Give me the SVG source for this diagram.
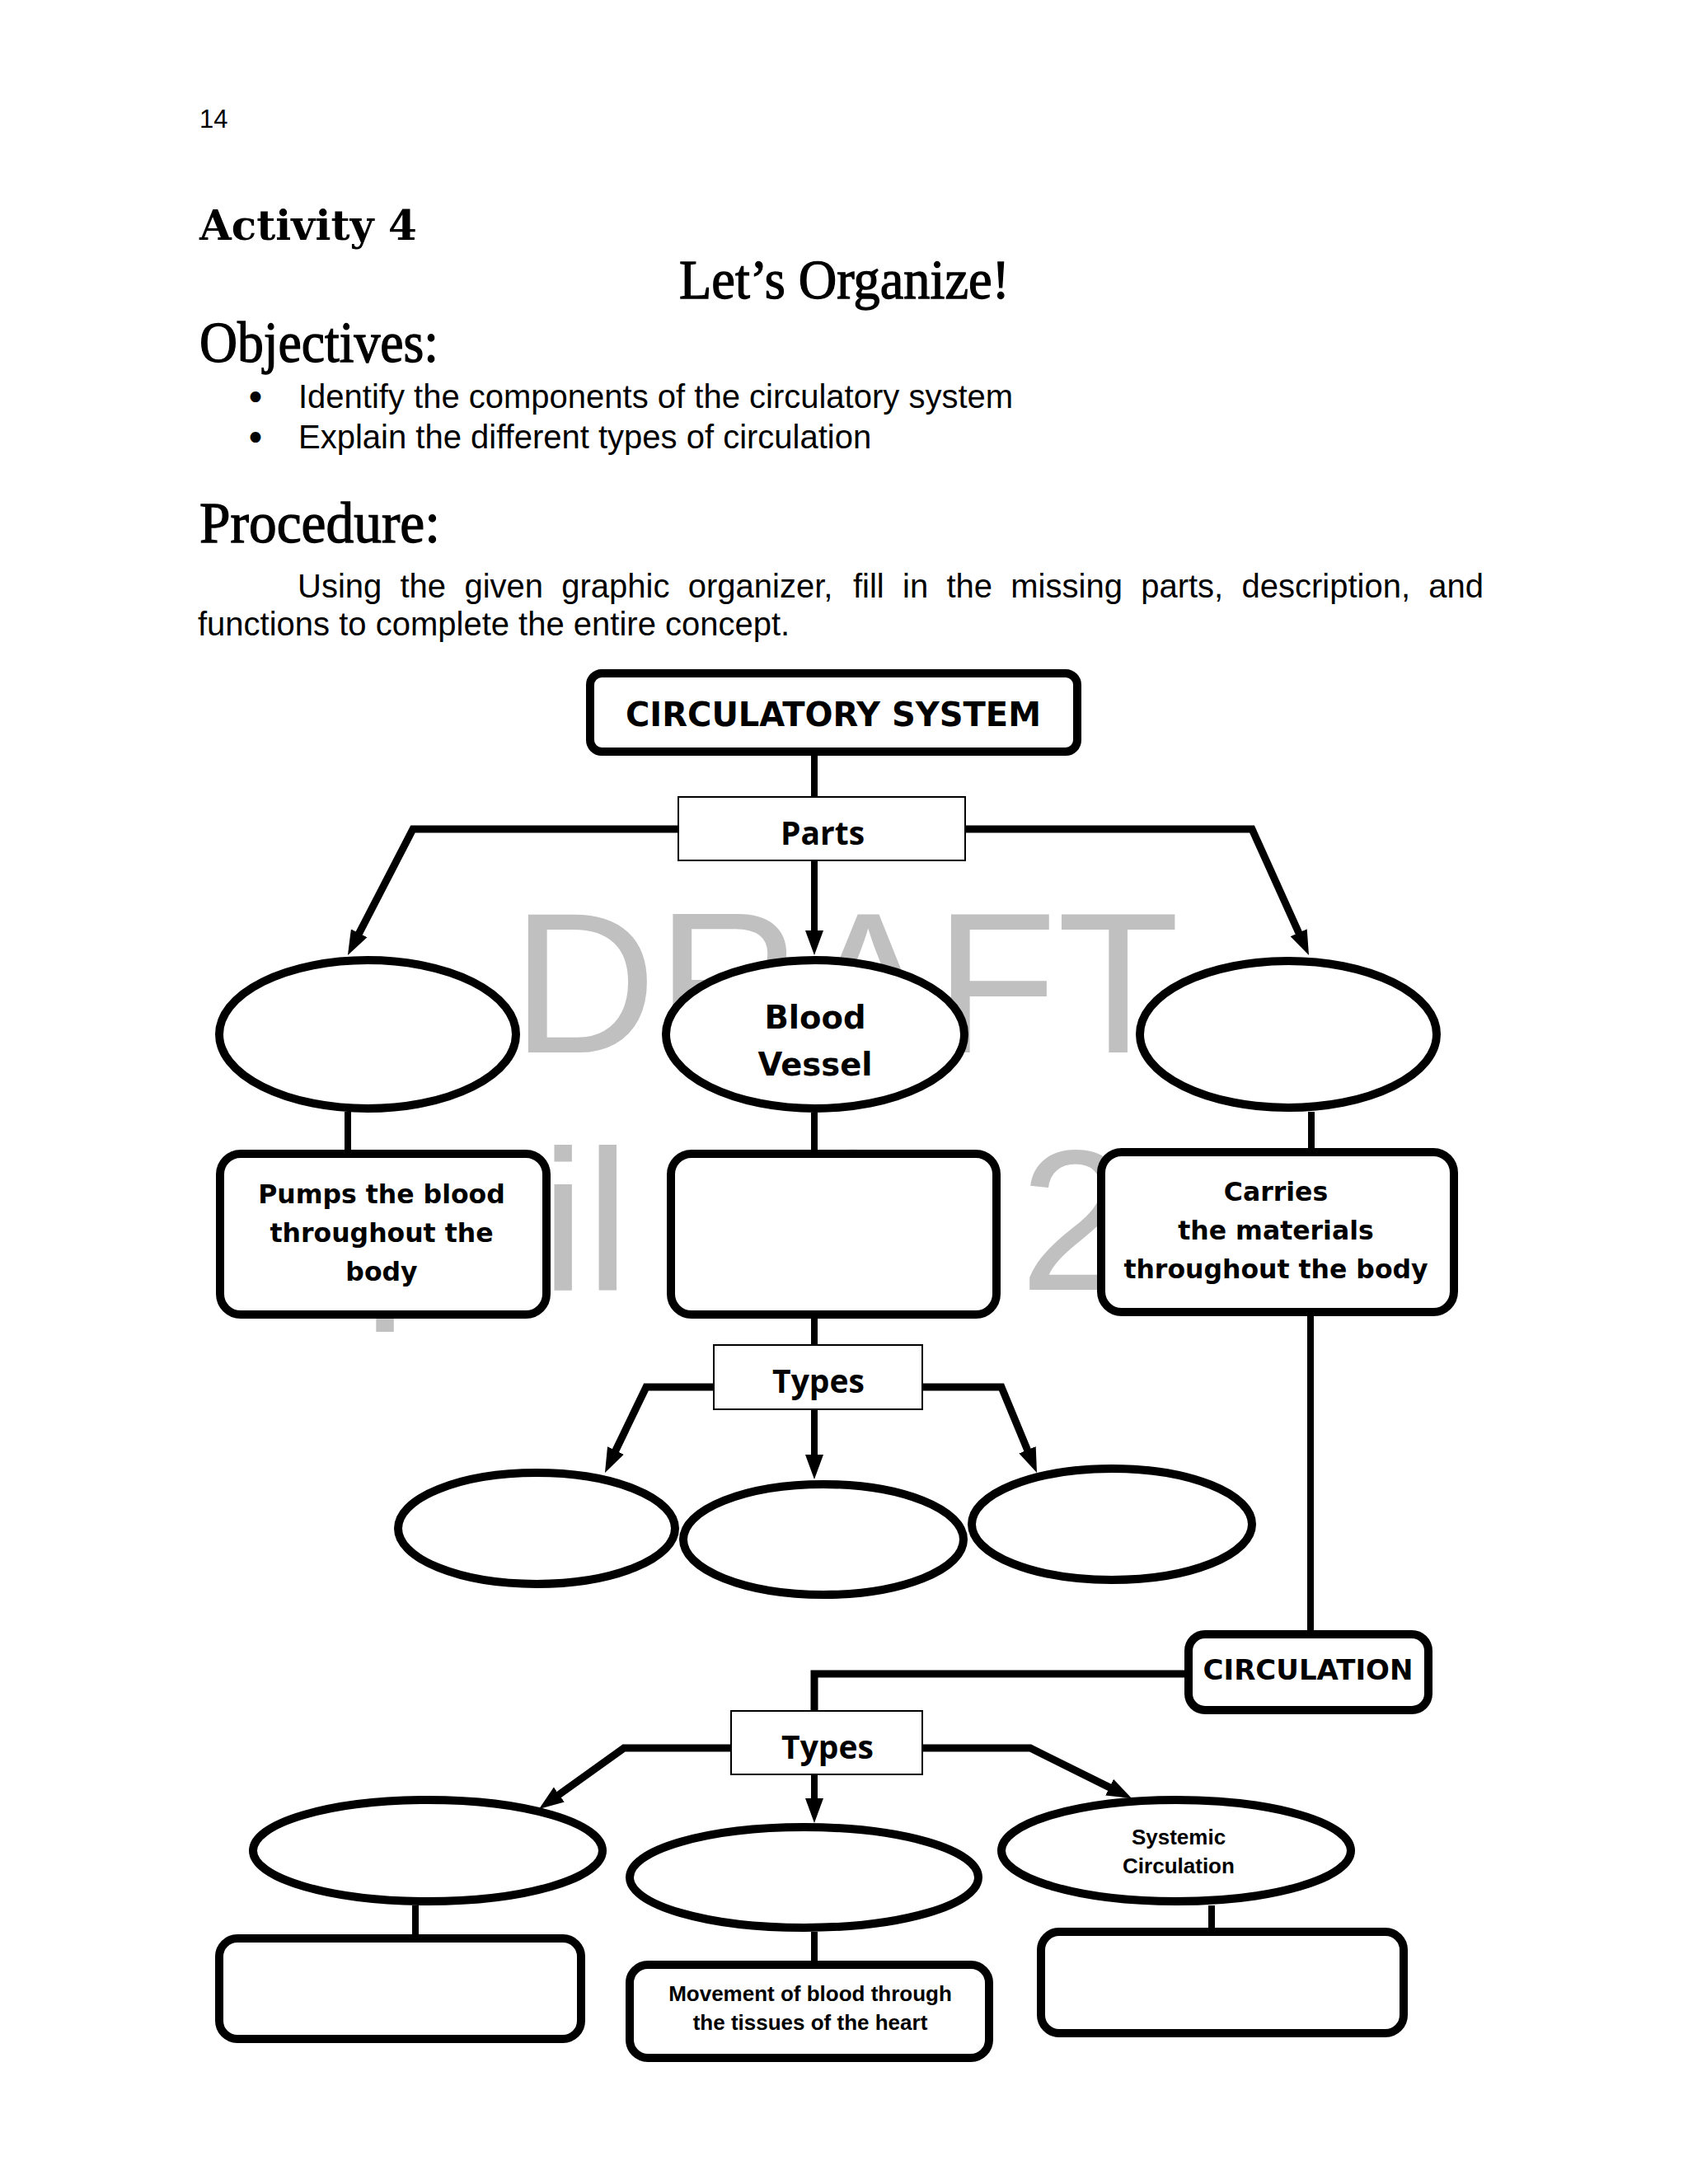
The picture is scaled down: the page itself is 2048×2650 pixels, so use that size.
<svg xmlns="http://www.w3.org/2000/svg" width="2048" height="2650" viewBox="0 0 2048 2650">
<style>
.bg{fill:#fff}
.wm{font-family:"Liberation Sans",Arial,sans-serif;font-size:243px;fill:#c0c0c0}
.body{font-family:"Liberation Sans",Arial,sans-serif;font-size:40px;fill:#000}
.bul{font-family:"DejaVu Sans",sans-serif;font-size:44px;fill:#000}
.head{font-family:"Liberation Serif","Times New Roman",serif;fill:#000;stroke:#000;stroke-width:1.3}
.node{fill:#fff;stroke:#000;stroke-width:10}
.lab{fill:#fff;stroke:#000;stroke-width:2}
.t1{font-family:"DejaVu Sans",Verdana,sans-serif;font-weight:bold;fill:#000;text-anchor:middle}
.t2{font-family:"Open Sans","Noto Sans",sans-serif;font-weight:bold;font-size:39px;fill:#000;text-anchor:middle}
.t3{font-family:"Liberation Sans",Arial,sans-serif;font-weight:bold;font-size:26px;fill:#000;text-anchor:middle}
.c{fill:none;stroke:#000;stroke-width:9;stroke-linejoin:miter}
.v{fill:none;stroke:#000;stroke-width:8}
</style>
<defs>
<marker id="ah" markerUnits="userSpaceOnUse" viewBox="0 -12 32 24" markerWidth="32" markerHeight="24" refX="2" refY="0" orient="auto"><path d="M0,-11 L30,0 L0,11 z" fill="#000"/></marker>
</defs>
<rect class="bg" x="0" y="0" width="2048" height="2650"/>

<g id="page-text">
<text x="242" y="155" font-family="Liberation Sans,Arial,sans-serif" font-size="31">14</text>
<text x="242" y="291" font-family="DejaVu Serif,serif" font-weight="bold" font-size="50">Activity 4</text>
<text class="head" x="824" y="362" font-size="67" textLength="401" lengthAdjust="spacingAndGlyphs">Let’s Organize!</text>
<text class="head" x="242" y="439" font-size="70" textLength="290" lengthAdjust="spacingAndGlyphs">Objectives:</text>
<text class="bul" x="297" y="498">•</text>
<text class="body" x="362" y="495">Identify the components of the circulatory system</text>
<text class="bul" x="297" y="547">•</text>
<text class="body" x="362" y="544">Explain the different types of circulation</text>
<text class="head" x="242" y="658" font-size="70" textLength="292" lengthAdjust="spacingAndGlyphs">Procedure:</text>
<text class="body" y="725"><tspan x="361">Using</tspan><tspan x="485.5">the</tspan><tspan x="563.4">given</tspan><tspan x="681.3">graphic</tspan><tspan x="834.8">organizer,</tspan><tspan x="1034.9">fill</tspan><tspan x="1095">in</tspan><tspan x="1148.4">the</tspan><tspan x="1226.3">missing</tspan><tspan x="1384.2">parts,</tspan><tspan x="1506.5">description,</tspan><tspan x="1733.3">and</tspan></text>
<text class="body" x="240" y="771">functions to complete the entire concept.</text>
</g>

<g id="watermark">
<text class="wm" x="621" y="1277">DRAFT</text>
<text class="wm" x="278" y="1565">April 10, 2020</text>
</g>

<g id="connectors">
<path class="v" d="M988,917 V966"/>
<path class="c" d="M823,1006 H501 L434.8,1134.1" marker-end="url(#ah)"/>
<path class="v" d="M988,1045 V1131" marker-end="url(#ah)"/>
<path class="c" d="M1172,1006 H1519 L1576.5,1133.5" marker-end="url(#ah)"/>
<path class="v" d="M422,1349 V1395"/>
<path class="v" d="M988,1350 V1395"/>
<path class="v" d="M1591,1349 V1393"/>
<path class="v" d="M988,1600 V1631"/>
<path class="c" d="M865,1683 H784 L746.1,1761.8" marker-end="url(#ah)"/>
<path class="v" d="M988,1711 V1767" marker-end="url(#ah)"/>
<path class="c" d="M1120,1683 H1215 L1247.3,1761.1" marker-end="url(#ah)"/>
<path class="v" d="M1590,1597 V1978"/>
<path class="c" d="M1437,2031 H988 V2075"/>
<path class="c" d="M886,2121 H757 L676.7,2178.7" marker-end="url(#ah)"/>
<path class="v" d="M988,2154 V2184" marker-end="url(#ah)"/>
<path class="c" d="M1120,2121 H1250 L1347.9,2169.6" marker-end="url(#ah)"/>
<path class="v" d="M504,2312 V2347"/>
<path class="v" d="M988,2344 V2380"/>
<path class="v" d="M1470,2312 V2340"/>
</g>

<g id="circulatory-system">
<rect class="node" x="716" y="817" width="591" height="95" rx="14"/>
<text class="t1" x="1011" y="881" font-size="40">CIRCULATORY SYSTEM</text>
</g>
<g id="parts-label">
<rect class="lab" x="823" y="967" width="348" height="77"/>
<text class="t2" x="998" y="1025">Parts</text>
</g>
<g id="part-left">
<ellipse class="node" cx="446" cy="1255" rx="180" ry="90"/>
</g>
<g id="part-blood-vessel">
<ellipse class="node" cx="989" cy="1255" rx="181" ry="90"/>
<text class="t1" x="989" y="1248" font-size="38.5">Blood</text>
<text class="t1" x="989" y="1305" font-size="38.5">Vessel</text>
</g>
<g id="part-right">
<ellipse class="node" cx="1563" cy="1255" rx="180" ry="89"/>
</g>
<g id="desc-heart">
<rect class="node" x="267" y="1400" width="396" height="195" rx="25"/>
<text class="t1" x="463" y="1460" font-size="31.5">Pumps the blood</text>
<text class="t1" x="463" y="1507" font-size="31.5">throughout the</text>
<text class="t1" x="463" y="1554" font-size="31.5">body</text>
</g>
<g id="desc-vessel">
<rect class="node" x="814" y="1400" width="395" height="195" rx="25"/>
</g>
<g id="desc-blood">
<rect class="node" x="1336" y="1398" width="428" height="194" rx="25"/>
<text class="t1" x="1548" y="1457" font-size="31.5">Carries</text>
<text class="t1" x="1548" y="1504" font-size="31.5">the materials</text>
<text class="t1" x="1548" y="1551" font-size="31.5">throughout the body</text>
</g>
<g id="types-vessel-label">
<rect class="lab" x="866" y="1632" width="253" height="78"/>
<text class="t2" x="993" y="1690">Types</text>
</g>
<g id="vessel-type-1">
<ellipse class="node" cx="651" cy="1854.5" rx="168" ry="67.5"/>
</g>
<g id="vessel-type-2">
<ellipse class="node" cx="999" cy="1868" rx="170" ry="67"/>
</g>
<g id="vessel-type-3">
<ellipse class="node" cx="1349" cy="1849.5" rx="170" ry="67.5"/>
</g>
<g id="circulation">
<rect class="node" x="1442" y="1983" width="291" height="92" rx="20"/>
<text class="t1" x="1587" y="2038" font-size="34">CIRCULATION</text>
</g>
<g id="types-circulation-label">
<rect class="lab" x="887" y="2076" width="232" height="77"/>
<text class="t2" x="1004" y="2134">Types</text>
</g>
<g id="circ-type-1">
<ellipse class="node" cx="519" cy="2245.5" rx="212" ry="61.5"/>
</g>
<g id="circ-type-2">
<ellipse class="node" cx="975.5" cy="2278" rx="211.5" ry="61"/>
</g>
<g id="circ-systemic">
<ellipse class="node" cx="1427" cy="2245.5" rx="212" ry="61.5"/>
<text class="t3" x="1430" y="2238">Systemic</text>
<text class="t3" x="1430" y="2273">Circulation</text>
</g>
<g id="circ-desc-1">
<rect class="node" x="266" y="2352" width="439" height="122" rx="22"/>
</g>
<g id="circ-desc-2">
<rect class="node" x="764" y="2384" width="436" height="113" rx="22"/>
<text class="t3" x="983" y="2428" font-size="26.5">Movement of blood through</text>
<text class="t3" x="983" y="2463" font-size="26.5">the tissues of the heart</text>
</g>
<g id="circ-desc-3">
<rect class="node" x="1263" y="2344" width="440" height="123" rx="22"/>
</g>
</svg>
